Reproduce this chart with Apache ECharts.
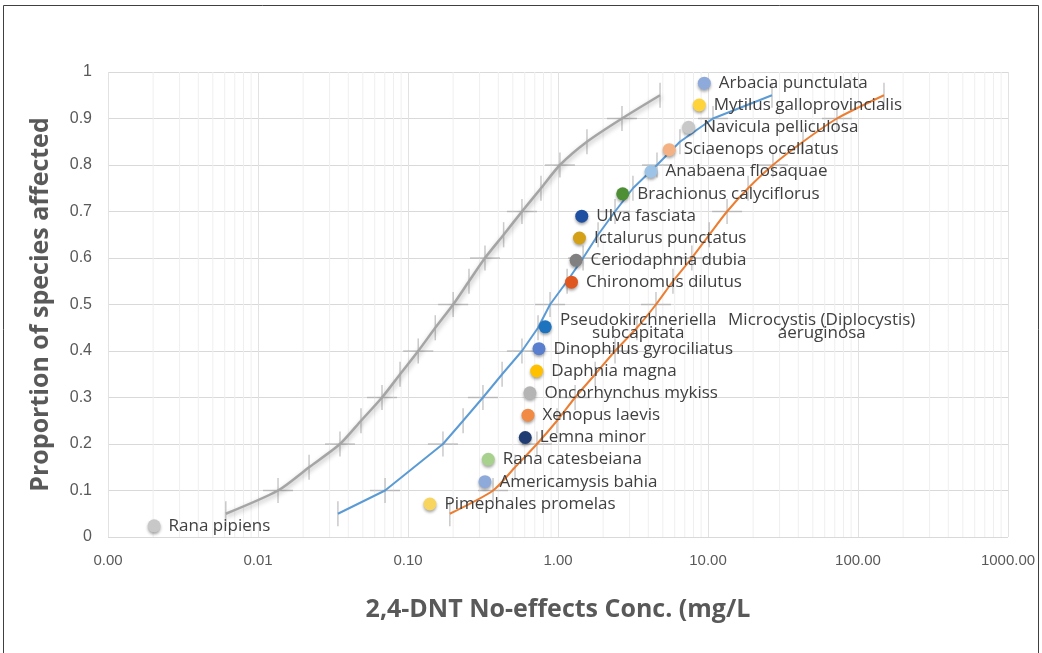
<!DOCTYPE html>
<html>
<head>
<meta charset="utf-8">
<script src="https://cdn.jsdelivr.net/npm/echarts@6/dist/echarts.min.js"></script>
<style>
html,body{margin:0;padding:0;background:#fff;}
#chart{width:1042px;height:653px;}
</style>
</head>
<body>
<div id="chart"></div>
<script>
// ---------- DATA ----------
const speciesNames = ["Rana pipiens","Pimephales promelas","Americamysis bahia","Rana catesbeiana","Lemna minor","Xenopus laevis","Oncorhynchus mykiss","Daphnia magna","Dinophilus gyrociliatus","Pseudokirchneriella subcapitata","Chironomus dilutus","Ceriodaphnia dubia","Ictalurus punctatus","Ulva fasciata","Brachionus calyciflorus","Anabaena flosaquae","Sciaenops ocellatus","Navicula pelliculosa","Mytilus galloprovincialis","Arbacia punctulata"];
const speciesConc = [0.00203,0.14,0.326,0.343,0.605,0.631,0.65,0.721,0.747,0.822,1.23,1.32,1.39,1.44,2.7,4.17,5.52,7.43,8.75,9.45];
const speciesProp = [0.024,0.071,0.119,0.167,0.214,0.262,0.31,0.357,0.405,0.452,0.548,0.595,0.643,0.69,0.738,0.786,0.833,0.881,0.929,0.976];
const sharedLabelName = "Microcystis (Diplocystis) aeruginosa";
const speciesColors = ["#c8c8c8","#f7d55e","#8eaadb","#a9d18e","#1f3c73","#f08a45","#b4b4b4","#ffc000","#5a7fcf","#1e73be","#e0561f","#808080","#d4a017","#1f4fa0","#4e8f36","#9dc3e6","#f4b183","#c8c8c8","#ffd43b","#8eaadb"];

const grayProp = [0.05,0.1,0.15,0.2,0.25,0.3,0.35,0.4,0.45,0.5,0.55,0.6,0.65,0.7,0.75,0.8,0.85,0.9,0.95];
const grayConc = [0.0061,0.0136,0.0219,0.0352,0.0486,0.0671,0.0885,0.117,0.152,0.2,0.255,0.326,0.434,0.575,0.77,1.03,1.56,2.67,4.79];

const blueProp = [0.05,0.1,0.2,0.25,0.3,0.35,0.4,0.45,0.5,0.55,0.6,0.65,0.7,0.75,0.8,0.85,0.9,0.95];
const blueConc = [0.0341,0.0703,0.171,0.233,0.316,0.424,0.575,0.736,0.885,1.15,1.47,1.85,2.4,3.16,4.57,6.5,10.8,26.7];

const orangeProp = [0.05,0.1,0.15,0.2,0.25,0.3,0.35,0.4,0.45,0.5,0.55,0.6,0.65,0.7,0.75,0.8,0.85,0.9,0.95];
const orangeConc = [0.19,0.369,0.517,0.724,0.985,1.3,1.77,2.4,3.36,4.5,5.84,7.8,10.2,13.4,18.5,27.1,43,72.4,149];

const xTickLabels = ["0.00","0.01","0.10","1.00","10.00","100.00","1000.00"];
const yTicks = [0,0.1,0.2,0.3,0.4,0.5,0.6,0.7,0.8,0.9,1];

const xTitle = "2,4-DNT No-effects Conc. (mg/L";
const yTitle = "Proportion of species affected";

// ---------- CHART ----------
const FONT = "'Open Sans', 'Liberation Sans', sans-serif";
const NARROW = "'Liberation Sans Narrow','Liberation Sans',sans-serif";
const zip = (xs, ys) => xs.map((x, i) => [x, ys[i]]);

// minor log grid values (axis decoration)
const minorVals = [];
for (let d = -3; d < 3; d++) for (let k = 2; k <= 9; k++) minorVals.push(k * Math.pow(10, d));

function errBarSeries(xs, ys, color) {
  return {
    type: 'custom', silent: true, z: 3,
    data: zip(xs, ys),
    renderItem: function (params, api) {
      const x = api.value(0), y = api.value(1);
      const p = api.coord([x, y]);
      const t = api.coord([x, y + 0.027]);
      const b = api.coord([x, y - 0.027]);
      const st = { stroke: color, lineWidth: 1.5 };
      const ch = [{ type: 'line', shape: { x1: p[0], y1: t[1], x2: p[0], y2: b[1] }, style: st }];
      if (Math.abs(y * 10 - Math.round(y * 10)) < 1e-6) {
        ch.push({ type: 'line', shape: { x1: p[0] - 15, y1: p[1], x2: p[0] + 15, y2: p[1] }, style: st });
      }
      return { type: 'group', children: ch };
    }
  };
}

const chart = echarts.init(document.getElementById('chart'), null, { renderer: 'canvas' });

const speciesData = speciesConc.map((x, i) => ({
  value: [x, speciesProp[i]],
  name: speciesNames[i],
  itemStyle: { color: speciesColors[i] }
}));

const LBL = 17;
const option = {
  animation: false,
  backgroundColor: '#ffffff',
  grid: { left: 108, right: 34, top: 72, bottom: 116, containLabel: false },
  xAxis: {
    type: 'log', logBase: 10, min: 0.001, max: 1000,
    name: xTitle, nameLocation: 'middle', nameGap: 60,
    nameTextStyle: { fontFamily: FONT, fontSize: 25, fontWeight: 'bold', color: '#595959' },
    axisLine: { show: false }, axisTick: { show: false },
    axisLabel: {
      fontFamily: NARROW, fontSize: 15, color: '#595959', margin: 16,
      formatter: function (v) {
        const i = Math.round(Math.log10(v)) + 3;
        return xTickLabels[i] !== undefined ? xTickLabels[i] : '';
      }
    },
    splitLine: { show: true, lineStyle: { color: '#e2e2e2', width: 1 } }
  },
  yAxis: {
    type: 'value', min: 0, max: 1, interval: 0.1,
    name: yTitle, nameLocation: 'middle', nameGap: 55, nameRotate: 90,
    nameTextStyle: { fontFamily: FONT, fontSize: 25, fontWeight: 'bold', color: '#595959' },
    axisLine: { show: false }, axisTick: { show: false },
    axisLabel: {
      fontFamily: NARROW, fontSize: 16, color: '#595959', margin: 16,
      formatter: function (v) {
        const i = yTicks.findIndex(t => Math.abs(t - v) < 1e-9);
        return i >= 0 ? String(yTicks[i]) : '';
      }
    },
    splitLine: { show: true, lineStyle: { color: '#d9d9d9', width: 1 } }
  },
  series: [
    {
      type: 'custom', silent: true, z: 0,
      data: minorVals.map(v => [v]),
      renderItem: function (params, api) {
        const v = api.value(0);
        const a = api.coord([v, 0]), b = api.coord([v, 1]);
        return { type: 'line', shape: { x1: a[0], y1: a[1], x2: b[0], y2: b[1] }, style: { stroke: '#efefef', lineWidth: 1 } };
      }
    },
    errBarSeries(grayConc, grayProp, 'rgba(150,150,150,0.5)'),
    errBarSeries(blueConc, blueProp, 'rgba(150,150,150,0.5)'),
    errBarSeries(orangeConc, orangeProp, 'rgba(150,150,150,0.5)'),
    {
      type: 'line', data: zip(grayConc, grayProp), smooth: 0.25, showSymbol: false, z: 4,
      lineStyle: { color: '#a5a5a5', width: 2.5, shadowColor: 'rgba(0,0,0,0.3)', shadowBlur: 5, shadowOffsetY: 2, shadowOffsetX: 1 }
    },
    {
      type: 'line', data: zip(blueConc, blueProp), smooth: false, showSymbol: false, z: 4,
      lineStyle: { color: '#5b9bd5', width: 2 }
    },
    {
      type: 'line', data: zip(orangeConc, orangeProp), smooth: 0.25, showSymbol: false, z: 4,
      lineStyle: { color: '#ed7d31', width: 2 }
    },
    {
      type: 'scatter', z: 6, symbolSize: 13,
      data: speciesData,
      itemStyle: { shadowColor: 'rgba(0,0,0,0.35)', shadowBlur: 3, shadowOffsetY: 2, opacity: 1 },
      label: {
        show: true, position: 'right', distance: 8,
        fontFamily: FONT, fontSize: LBL, color: '#404040',
        formatter: function (p) {
          if (p.dataIndex === 9) {
            const a = speciesNames[9].split(' ');
            const b = sharedLabelName.split(' ');
            return '{a|' + a[0] + '}{b|' + b.slice(0, 2).join(' ') + '}\n{a2|' + a[1] + '}{b2|' + b[2] + '}';
          }
          return p.name;
        },
        rich: {
          a: { width: 157, align: 'center', fontFamily: FONT, fontSize: LBL, color: '#404040', lineHeight: 13 },
          b: { width: 210, align: 'center', fontFamily: FONT, fontSize: LBL, color: '#404040', lineHeight: 13 },
          a2: { width: 157, align: 'center', fontFamily: FONT, fontSize: LBL, color: '#404040', lineHeight: 13 },
          b2: { width: 210, align: 'center', fontFamily: FONT, fontSize: LBL, color: '#404040', lineHeight: 13 }
        }
      }
    }
  ],
  graphic: [
    { type: 'rect', shape: { x: 3.5, y: 5.5, width: 1035, height: 700 }, style: { fill: 'none', stroke: '#404040', lineWidth: 1 }, silent: true }
  ]
};
chart.setOption(option);
</script>
</body>
</html>
